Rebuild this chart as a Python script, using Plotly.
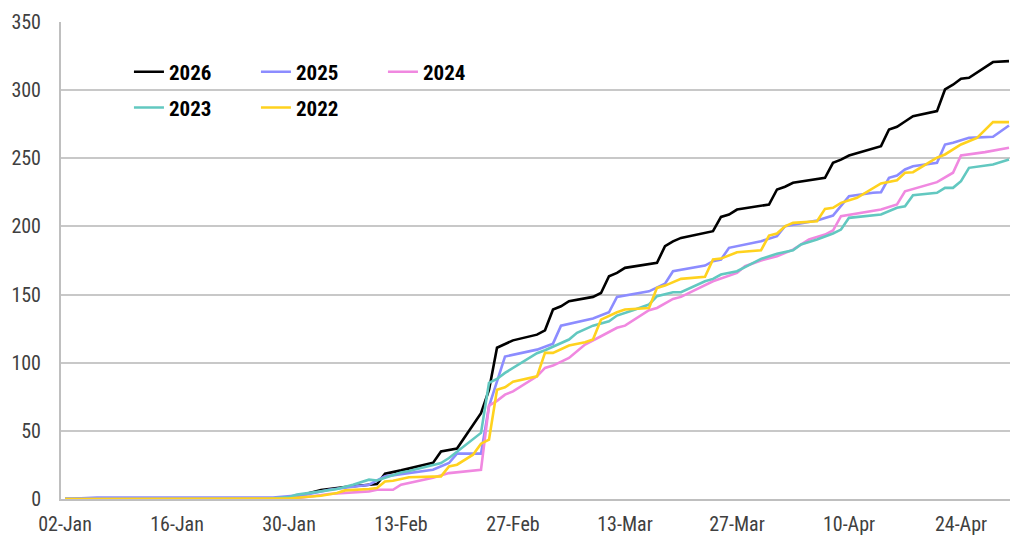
import plotly.graph_objects as go

YEAR_AXIS = "2026"

# ---- data (month-day, cumulative value) ----
d2026 = ["01-02","01-28","01-31","02-03","02-06","02-10","02-11","02-13","02-17","02-18","02-20",
         "02-23","02-24","02-25","02-27","03-02","03-03","03-04","03-05","03-06","03-09","03-10",
         "03-11","03-12","03-13","03-17","03-18","03-19","03-20","03-24","03-25","03-26","03-27",
         "03-31","04-01","04-02","04-03","04-07","04-08","04-09","04-10","04-13","04-14","04-15",
         "04-16","04-17","04-18","04-21","04-22","04-23","04-24","04-25","04-28","04-30"]
v2026 = [0,0,2,6.5,8.8,11,18.6,21,26.5,34.9,37,
         63,80,111,116.4,120.6,123.8,139,141.4,145.1,148.3,151.2,
         163.4,165.9,169.6,173.3,185.5,189,191.6,196.5,207,208.7,212.4,
         216.1,227.1,229.1,232,235.7,246.7,249,252,257.5,258.9,271.1,
         273.1,277,280.9,284.6,300.5,304,308.4,309.1,320.6,321.3]

d2025 = ["01-02","01-06","01-28","02-01","02-04","02-09","02-11","02-17","02-19","02-20","02-23",
         "02-24","02-26","03-02","03-04","03-05","03-09","03-11","03-12","03-16","03-18","03-19",
         "03-23","03-24","03-25","03-26","03-30","04-01","04-02","04-06","04-08","04-09","04-10",
         "04-13","04-14","04-15","04-16","04-17","04-18","04-21","04-22","04-23","04-25","04-28","04-30"]
v2025 = [0,1,1,3,6.8,10.5,16.6,21.5,26.4,33.3,33.3,
         68,104.5,109.6,114,127.2,132.4,137,148.3,152.4,158,167.1,
         171.3,174.5,175.7,184.3,189.1,192.8,200.1,204.3,208,214.8,222.2,
         224.7,225.1,235.7,237.4,241.8,244.2,246.7,260.1,261.4,265,265.8,274.1]

d2024 = ["01-02","01-30","02-02","02-04","02-09","02-10","02-12","02-13","02-17","02-19","02-23",
         "02-24","02-25","02-26","02-27","03-02","03-03","03-04","03-06","03-08","03-10","03-12",
         "03-13","03-16","03-17","03-19","03-20","03-23","03-24","03-27","03-28","03-30","04-01",
         "04-03","04-05","04-07","04-08","04-09","04-14","04-16","04-17","04-21","04-23","04-24",
         "04-27","04-30"]
v2024 = [0,0,2,3.7,5.6,6.8,6.8,10.5,15.6,19,21.5,
         68.5,72,76.6,79,90,96.2,97.9,103.5,113.3,119.4,125.6,
         127.2,138.5,140.2,146.8,148.3,157.3,159.8,165.9,170.8,175,178.1,
         183,190.4,194,197,207.5,212.4,216.1,225.8,232.5,239.4,252,
         254.5,257.7]

d2023 = ["01-02","01-27","01-30","01-31","02-03","02-05","02-07","02-09","02-10","02-12","02-13",
         "02-14","02-18","02-19","02-23","02-24","02-25","02-26","02-27","03-01","03-02","03-03",
         "03-04","03-06","03-07","03-09","03-11","03-12","03-14","03-16","03-17","03-19","03-20",
         "03-23","03-24","03-25","03-27","03-29","03-30","04-01","04-03","04-04","04-06","04-08",
         "04-09","04-10","04-14","04-16","04-17","04-18","04-21","04-22","04-23","04-24","04-25",
         "04-28","04-30"]
v2023 = [0,0,1.5,3.2,5.6,7.3,10.5,14.2,13.6,17.8,19.5,
         20.5,26.4,30.1,48.5,85.2,88.1,92.5,96.2,103.5,107,109.1,
         111.6,117,121.9,127.2,130.4,134.6,138.5,142.7,148.8,151.7,151.7,
         159.8,161.5,164.7,167.1,172.8,176.2,179.9,182.5,186.7,190.4,194.8,
         197.7,206.3,208.7,213.7,214.8,222.9,224.7,228.3,228.3,233.2,243,
         245.4,249.1]

d2022 = ["01-02","01-30","02-01","02-03","02-05","02-06","02-09","02-10","02-11","02-12","02-14",
         "02-18","02-19","02-20","02-22","02-23","02-24","02-25","02-26","02-27","03-02","03-03",
         "03-04","03-06","03-08","03-09","03-10","03-12","03-13","03-16","03-17","03-18","03-20",
         "03-23","03-24","03-25","03-27","03-30","03-31","04-01","04-02","04-03","04-06","04-07",
         "04-08","04-09","04-11","04-14","04-16","04-17","04-18","04-21","04-22","04-24","04-26",
         "04-28","04-30"]
v2022 = [0,0.3,1.5,2.4,4.4,6.3,7.3,8.1,12.9,13.4,16,
         16.6,23.9,25.2,32.5,40.6,43.5,80.2,82,86,90,107.2,
         107.2,112.6,115,117,131.6,137,139,140.2,154.9,156.6,161.5,
         163,175.7,176.4,181,182.5,193.3,194.8,200.1,202.6,203.8,212.9,
         213.7,217.3,221,231.5,233.9,239.4,239.8,250.4,252.8,260.1,265,
         276.5,276.5]

series_names = ["2026", "2025", "2024", "2023", "2022"]
series_dates = [d2026, d2025, d2024, d2023, d2022]
series_vals = [v2026, v2025, v2024, v2023, v2022]
colors = ["#000000", "#8c8cff", "#f088e0", "#62c8c0", "#ffd21e"]
legend_ids = ["legend", "legend", "legend", "legend2", "legend2"]

tick_days = ["01-02","01-16","01-30","02-13","02-27","03-13","03-27","04-10","04-24"]

FONT = "Liberation Sans Narrow, Arial Narrow, Roboto Condensed, Liberation Sans, sans-serif"
TICK_COLOR = "#404040"

fig = go.Figure()
for name, ds, vs, c, lg in zip(series_names, series_dates, series_vals, colors, legend_ids):
    fig.add_trace(go.Scatter(
        x=[f"{YEAR_AXIS}-{d}" for d in ds], y=vs, mode="lines", name=name,
        line=dict(color=c, width=2.6), legend=lg))

legend_common = dict(orientation="h", xanchor="left", yanchor="top",
                     bgcolor="rgba(0,0,0,0)", entrywidth=82, entrywidthmode="pixels",
                     font=dict(family=FONT, size=21, color="#000000", weight="bold"),
                     itemwidth=30, tracegroupgap=0)

fig.update_layout(
    width=1010, height=527,
    margin=dict(l=53, r=0, t=14, b=36),
    paper_bgcolor="white", plot_bgcolor="white",
    font=dict(family=FONT, size=20, color=TICK_COLOR),
    showlegend=True,
    legend=dict(x=0.071, y=0.938, **legend_common),
    legend2=dict(x=0.071, y=0.863, **legend_common),
    shapes=[dict(type="rect", xref="paper", yref="paper", x0=0.05, x1=0.445, y0=0.79, y1=0.93,
                 fillcolor="white", line=dict(width=0), layer="between")],
)
fig.update_xaxes(
    type="date",
    range=[f"{YEAR_AXIS}-01-01 12:00", f"{YEAR_AXIS}-05-01 03:00"],
    tickvals=[f"{YEAR_AXIS}-{d}" for d in tick_days],
    tickformat="%d-%b",
    showgrid=False, showline=True, linecolor="#bfbfbf", linewidth=2,
    ticks="", ticklabelstandoff=6, tickfont=dict(size=20, color=TICK_COLOR),
)
fig.update_yaxes(
    range=[0, 350], dtick=50, tick0=0,
    showgrid=True, gridcolor="#c8c8c8", gridwidth=1.5,
    showline=True, linecolor="#bfbfbf", linewidth=2,
    ticks="", zeroline=False, ticklabelstandoff=14, tickfont=dict(size=20, color=TICK_COLOR),
)

fig.write_html("out.html")
